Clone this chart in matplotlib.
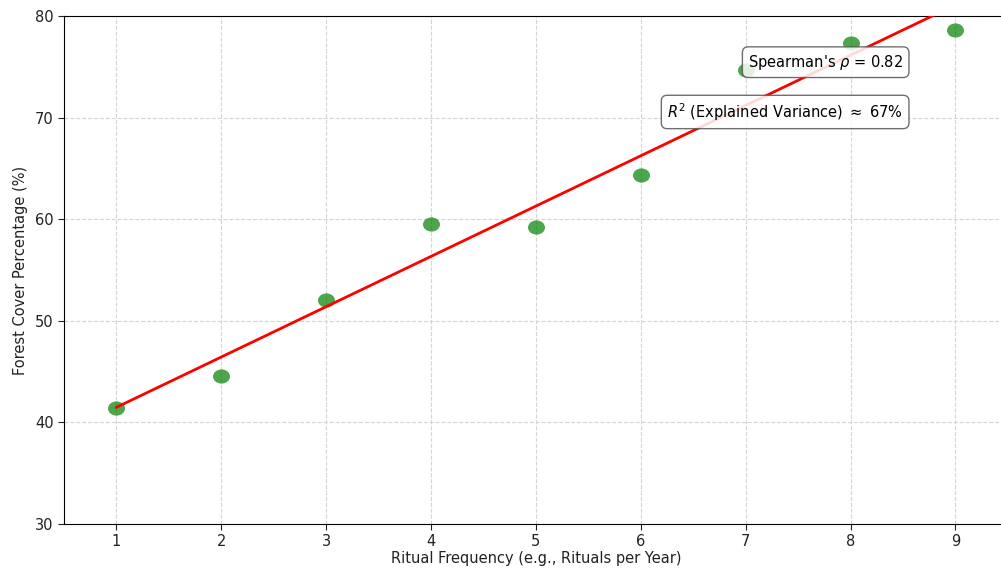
import numpy as np
import matplotlib
matplotlib.use('Agg')
import matplotlib.pyplot as plt
from matplotlib.path import Path

# Data
ritual_freq = [1, 2, 3, 4, 5, 6, 7, 8, 9]
forest_cover = [41.4, 44.6, 52.0, 59.5, 59.2, 64.3, 74.7, 77.3, 78.6]
spearman_text = "Spearman's $\\rho$ = 0.82"
r2_text = "$R^2$ (Explained Variance) $\\approx$ 67%"

plt.rcParams['font.family'] = ['DejaVu Sans']

fig = plt.figure(figsize=(10.01, 5.68), dpi=100)
ax = fig.add_axes([0.0639, 0.0775, 0.943, 0.8944])

# slightly wide ellipse marker like the reference
circle = Path.unit_circle()
ellipse = Path(circle.vertices * np.array([1.2, 1.0]), circle.codes)

ax.scatter(ritual_freq, forest_cover, marker=ellipse, s=150, color='green',
           alpha=0.7, linewidths=0, zorder=3)

# linear fit line
slope, intercept = np.polyfit(ritual_freq, forest_cover, 1)
x_fit = np.array(ritual_freq, dtype=float)
ax.plot(x_fit, slope * x_fit + intercept, color='red', linewidth=2, zorder=4)

ax.set_xlim(0.5, 9.5)
ax.set_ylim(30, 80)
ax.set_xticks(ritual_freq)
ax.set_yticks([30, 40, 50, 60, 70, 80])
ax.tick_params(labelsize=10.5, length=4, colors='#222222')
ax.grid(True, linestyle='--', color='#d4d4d4', linewidth=0.8)
ax.set_axisbelow(True)

ax.set_xlabel('Ritual Frequency (e.g., Rituals per Year)', fontsize=10.5,
              labelpad=1, color='#222222')
ax.set_ylabel('Forest Cover Percentage (%)', fontsize=10.5, labelpad=5,
              color='#222222')

box = dict(boxstyle='round,pad=0.4', facecolor='white', edgecolor='#555555',
           linewidth=1, alpha=0.85)
ax.text(0.889, 0.909, spearman_text, transform=ax.transAxes, ha='right',
        va='center', fontsize=10.5, bbox=box, zorder=5)
ax.text(0.889, 0.811, r2_text, transform=ax.transAxes, ha='right',
        va='center', fontsize=10.5, bbox=box, zorder=5)

fig.savefig('out.png', dpi=100)
